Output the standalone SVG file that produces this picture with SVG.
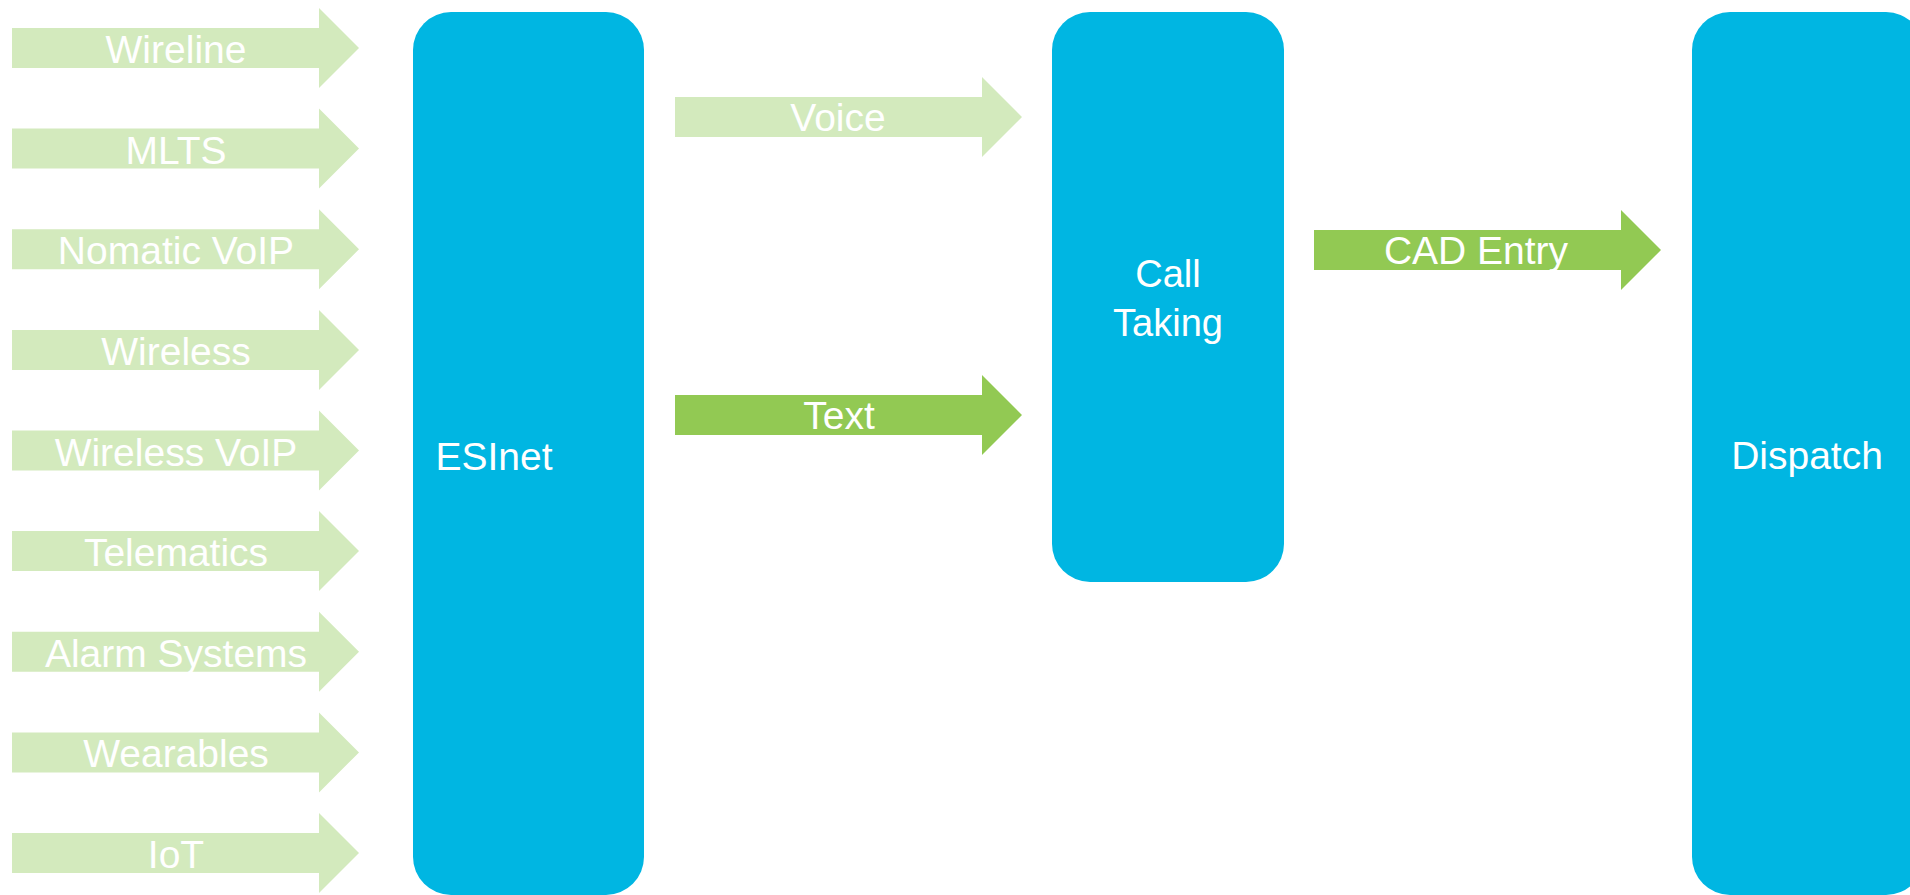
<svg xmlns="http://www.w3.org/2000/svg" width="1910" height="895" viewBox="0 0 1910 895">
<style>
.box{fill:#00B6E2}
.lt{fill:#D3EABD}
.dk{fill:#92C953}
text{font-family:"Liberation Sans",Arial,sans-serif;fill:#FFFFFF;text-anchor:middle;font-size:39px}
</style>
<defs>
<path id="arrL" d="M12,-20 H319 V-40 L359,0 L319,40 V20 H12 Z"/>
<path id="arrM" d="M675,-20 H982 V-40 L1022,0 L982,40 V20 H675 Z"/>
</defs>
<rect width="1910" height="895" fill="#FFFFFF"/>
<g id="connectors">
<g id="in-wireline"><use href="#arrL" class="lt" y="48"/><text x="176" y="63">Wireline</text></g>
<g id="in-mlts"><use href="#arrL" class="lt" y="148.6"/><text x="176" y="163.6">MLTS</text></g>
<g id="in-nomatic"><use href="#arrL" class="lt" y="249.3"/><text x="176" y="264.3">Nomatic VoIP</text></g>
<g id="in-wireless"><use href="#arrL" class="lt" y="349.9"/><text x="176" y="364.9">Wireless</text></g>
<g id="in-wirelessvoip"><use href="#arrL" class="lt" y="450.5"/><text x="176" y="465.5">Wireless VoIP</text></g>
<g id="in-telematics"><use href="#arrL" class="lt" y="551.1"/><text x="176" y="566.1">Telematics</text></g>
<g id="in-alarm"><use href="#arrL" class="lt" y="651.8"/><text x="176" y="666.8">Alarm Systems</text></g>
<g id="in-wearables"><use href="#arrL" class="lt" y="752.4"/><text x="176" y="767.4">Wearables</text></g>
<g id="in-iot"><use href="#arrL" class="lt" y="853"/><text x="176" y="868">IoT</text></g>
<g id="voice"><use href="#arrM" class="lt" y="117"/><text x="838" y="131">Voice</text></g>
<g id="text-arrow"><use href="#arrM" class="dk" y="415"/><text x="839" y="429">Text</text></g>
<g id="cad-entry"><path class="dk" d="M1314,230 H1621 V210 L1661,250 L1621,290 V270 H1314 Z"/><text x="1476" y="264">CAD Entry</text></g>
</g>
<g id="esinet"><rect class="box" x="413" y="12" width="231" height="883" rx="38" ry="38"/><text x="494" y="470">ESInet</text></g>
<g id="call-taking"><rect class="box" x="1052" y="12" width="232" height="570" rx="38" ry="38"/><text x="1168" y="287" style="font-size:38px">Call</text><text x="1168" y="336" style="font-size:38px">Taking</text></g>
<g id="dispatch"><rect class="box" x="1692" y="12" width="232" height="883" rx="38" ry="38"/><text x="1807" y="469">Dispatch</text></g>
</svg>
